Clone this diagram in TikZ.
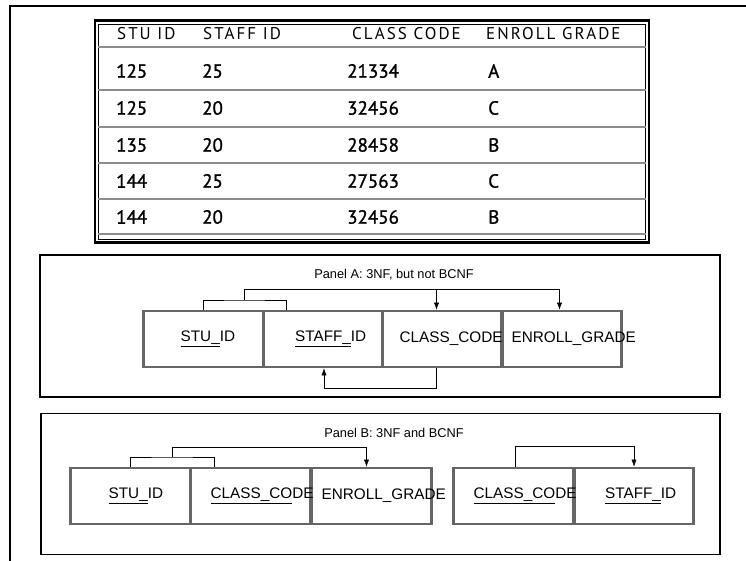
\documentclass[tikz,border=0pt]{standalone}
\usepackage{fontspec}
\setmainfont{Liberation Sans}
\newfontfamily\headfont[LetterSpace=12]{PT Sans}
\newfontfamily\cellfont[FakeBold=1.2]{PT Sans}
\usetikzlibrary{arrows.meta,positioning}
\newcommand\keyul[1]{\sbox0{#1}\rlap{\rule[-6pt]{\wd0}{1.8pt}}#1}

\begin{document}
\begin{tikzpicture}[x=1pt,y=-1pt,>={Latex[length=7pt,width=5pt]},
  head/.style={font=\headfont\fontsize{17}{19}\selectfont,anchor=west,inner sep=0pt},
  cell/.style={font=\cellfont\fontsize{19}{22}\selectfont,anchor=west,inner sep=0pt},
  rowline/.style={draw=black!45,line width=1.6pt},
  panel/.style={draw,line width=1.4pt,inner sep=0pt},
  attr/.style={draw=black!60,line width=2.6pt,minimum width=119.5pt,minimum height=56pt,inner sep=0pt},
  fld/.style={font=\fontsize{15.3}{18}\selectfont,anchor=west,inner sep=0pt},
  ttl/.style={font=\fontsize{12.8}{15}\selectfont}]
\useasboundingbox (0,0) rectangle (746,561);
\draw[line width=2pt] (10,561) -- (10,6) -- (746,6);

\node[draw,line width=2.2pt,minimum width=554pt,minimum height=222pt,inner sep=0pt] (tab) at (372,131.5) {};
\node[draw,line width=0.9pt,minimum width=547pt,minimum height=215pt,inner sep=0pt] (tabin) at (372,131.5) {};
\draw[rowline] (tabin.west |- 0,47) -- (tabin.east |- 0,47);
\draw[rowline] (tabin.west |- 0,90) -- (tabin.east |- 0,90);
\draw[rowline] (tabin.west |- 0,127) -- (tabin.east |- 0,127);
\draw[rowline] (tabin.west |- 0,163) -- (tabin.east |- 0,163);
\draw[rowline] (tabin.west |- 0,199) -- (tabin.east |- 0,199);
\draw[rowline] (tabin.west |- 0,234) -- (tabin.east |- 0,234);

\node[head] (hs) at (117,34) {STU ID};
\node[head] (hf) at (203,34) {STAFF ID};
\node[head] (hc) at (352,34) {CLASS CODE};
\node[head] (hg) at (486,34) {ENROLL GRADE};
\node[cell] (s1) at (116,71) {125};
\node[cell] (f1) at (202,71) {25};
\node[cell] (c1) at (347,71) {21334};
\node[cell] (g1) at (488,71) {A};
\node[cell] (s2) at (116,108) {125};
\node[cell] (f2) at (202,108) {20};
\node[cell] (c2) at (347,108) {32456};
\node[cell] (g2) at (488,108) {C};
\node[cell] (s3) at (116,145) {135};
\node[cell] (f3) at (202,145) {20};
\node[cell] (c3) at (347,145) {28458};
\node[cell] (g3) at (488,145) {B};
\node[cell] (s4) at (116,181) {144};
\node[cell] (f4) at (202,181) {25};
\node[cell] (c4) at (347,181) {27563};
\node[cell] (g4) at (488,181) {C};
\node[cell] (s5) at (116,217) {144};
\node[cell] (f5) at (202,217) {20};
\node[cell] (c5) at (347,217) {32456};
\node[cell] (g5) at (488,217) {B};

\node[panel,minimum width=680pt,minimum height=142pt] (pa) at (380,326) {};
\node[ttl] (ta) at (394,275) {Panel A: 3NF, but not BCNF};
\node[attr] (a1) at (203.5,339) {};
\node[attr] (a2) at (323,339) {};
\node[attr] (a3) at (442.5,339) {};
\node[attr] (a4) at (561.5,339) {};
\node[fld] (ta1) at ([xshift=38]a1.west) {\keyul{STU\_}ID};
\node[fld] (ta2) at ([xshift=33]a2.west) {\keyul{STAFF\_}ID};
\node[fld] (ta3) at ([xshift=18]a3.west) {CLASS\_CODE};
\node[fld] (ta4) at ([xshift=11]a4.west) {ENROLL\_GRADE};
\coordinate (ab) at (244,300);
\coordinate (at) at (244,289);
\draw (a1.north) |- (ab) -| ([xshift=24]a2.north west);
\draw[->] (ab) -- (at) -| ([xshift=-6]a3.north);
\draw[->] (at) -| ([xshift=-2]a4.north);
\draw[->] ([xshift=-6]a3.south) -- ++(0,20) -| ([xshift=1]a2.south);

\node[panel,minimum width=679pt,minimum height=141pt] (pb) at (380.5,484) {};
\node[ttl] (tb) at (394,433) {Panel B: 3NF and BCNF};
\node[attr] (b1) at (130.5,496) {};
\node[attr] (b2) at (250.5,496) {};
\node[attr] (b3) at (371.5,496) {};
\node[attr] (b4) at (513.5,496) {};
\node[attr] (b5) at (634,496) {};
\node[fld] (tb1) at ([xshift=39]b1.west) {\keyul{STU\_}ID};
\node[fld] (tb2) at ([xshift=21]b2.west) {\keyul{CLASS\_CO}DE};
\node[fld] (tb3) at ([xshift=11]b3.west) {ENROLL\_GRADE};
\node[fld] (tb4) at ([xshift=21]b4.west) {\keyul{CLASS\_CO}DE};
\node[fld] (tb5) at ([xshift=32]b5.west) {\keyul{STAFF\_}ID};
\coordinate (bb) at (172,457);
\coordinate (bt) at (172,447);
\draw (b1.north) |- (bb) -| ([xshift=25]b2.north west);
\draw[->] (bb) -- (bt) -| ([xshift=-5]b3.north);
\draw[->] ([xshift=2]b4.north) -- ++(0,-21) -| (b5.north);
\end{tikzpicture}
\end{document}
